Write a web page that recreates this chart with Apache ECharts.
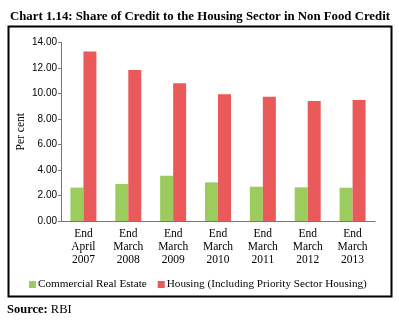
<!DOCTYPE html>
<html><head><meta charset="utf-8">
<script src="https://cdn.jsdelivr.net/npm/echarts@6/dist/echarts.min.js"></script>
<style>html,body{margin:0;padding:0;background:#fff}#c{width:399px;height:321px}</style>
</head><body><div id="c"></div>
<script>
var categories = ['End\nApril\n2007','End\nMarch\n2008','End\nMarch\n2009','End\nMarch\n2010','End\nMarch\n2011','End\nMarch\n2012','End\nMarch\n2013'];
var commercialRealEstate = [2.62, 2.90, 3.55, 3.03, 2.69, 2.64, 2.61];
var housing = [13.30, 11.84, 10.80, 9.94, 9.75, 9.41, 9.49];
var yTicks = [0, 2, 4, 6, 8, 10, 12, 14];

var serif = '"Liberation Serif", "DejaVu Serif", serif';
var chart = echarts.init(document.getElementById('c'), null, {renderer: 'canvas'});
chart.setOption({
  animation: false,
  title: {
    text: 'Chart 1.14: Share of Credit to the Housing Sector in Non Food Credit',
    left: 5, top: 5,
    textStyle: {fontFamily: serif, fontWeight: 'bold', fontSize: 12.8, color: '#000'}
  },
  graphic: [{
    type: 'rect', left: 6, top: 24,
    shape: {width: 383, height: 270},
    style: {fill: 'none', stroke: '#000', lineWidth: 2}
  }, {
    type: 'text', left: 7, top: 303,
    style: {
      text: '{b|Source:} RBI',
      rich: {b: {fontWeight: 'bold', fontFamily: serif, fontSize: 12.5}},
      fontFamily: serif, fontSize: 12.5, fill: '#000'
    }
  }],
  legend: {
    left: 24, top: 274, itemWidth: 7, itemHeight: 7, itemGap: 11,
    icon: 'rect',
    textStyle: {fontFamily: serif, fontSize: 11.2, color: '#000', padding: [0,0,0,-3]},
    data: ['Commercial Real Estate', 'Housing (Including Priority Sector Housing)']
  },
  grid: {left: 61, right: 24, top: 42.5, bottom: 100},
  xAxis: {
    type: 'category', data: categories,
    axisLine: {lineStyle: {color: '#777'}},
    axisTick: {length: 4, lineStyle: {color: '#777'}},
    axisLabel: {fontFamily: serif, fontSize: 11.5, color: '#000', lineHeight: 13, margin: 6}
  },
  yAxis: {
    type: 'value', min: 0, max: 14, interval: 2,
    name: 'Per cent', nameLocation: 'middle', nameGap: 34, nameRotate: 90,
    nameMoveOverlap: false,
    nameTextStyle: {fontFamily: serif, fontSize: 11.5, color: '#000'},
    axisLine: {show: true, lineStyle: {color: '#777'}},
    axisTick: {show: true, length: 3, lineStyle: {color: '#777'}},
    splitLine: {show: false},
    axisLabel: {fontFamily: '"Liberation Sans", sans-serif', fontSize: 10, color: '#000', margin: 4,
      formatter: function(v){ return yTicks.indexOf(v) >= 0 ? v.toFixed(2) : ''; }}
  },
  series: [{
    name: 'Commercial Real Estate', type: 'bar', data: commercialRealEstate,
    barWidth: 13, barGap: '0%',
    itemStyle: {color: '#9CCB5E'}
  }, {
    name: 'Housing (Including Priority Sector Housing)', type: 'bar', data: housing,
    barWidth: 13, barGap: '0%',
    itemStyle: {color: '#EA5A5A'}
  }]
});
</script></body></html>
